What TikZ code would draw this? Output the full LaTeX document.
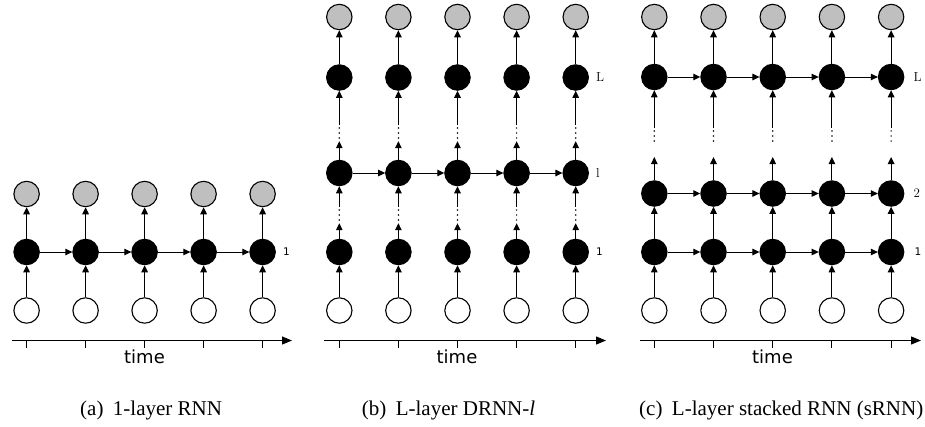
\documentclass[tikz,border=0pt]{standalone}
\usepackage{fontspec}
\usetikzlibrary{arrows.meta,calc}
\newfontfamily\capfont{Liberation Serif}
\newfontfamily\sansfnt{DejaVu Sans}
\tikzset{
  neuron/.style={circle,minimum size=25.4pt,inner sep=0pt,line width=1.1pt,draw=black},
  hid/.style={neuron,fill=black},
  outn/.style={neuron,fill=gray!50},
  inn/.style={neuron,fill=white},
  arr/.style={line width=1pt,-{Triangle[length=7pt,width=6.5pt]}},
  axisarr/.style={line width=1.1pt,-{Triangle[length=10pt,width=8pt]}},
  tickmark/.style={line width=1pt},
  dotsnode/.style={rectangle,inner sep=0pt,minimum width=3pt,minimum height=16pt},
  numlab/.style={anchor=west,inner sep=0pt,font=\sansfnt\fontsize{10.5}{12}\selectfont},
  serlab/.style={anchor=west,inner sep=0pt,font=\fontsize{13}{15}\selectfont},
  timelab/.style={inner sep=0pt,font=\sansfnt\fontsize{18}{20}\selectfont},
  captext/.style={anchor=base west,inner sep=0pt,font=\capfont\fontsize{21}{24}\selectfont}
}
\newcommand{\threedots}[1]{%
  \fill (#1) circle (0.85pt);
  \fill ($(#1)+(0,5)$) circle (0.85pt);
  \fill ($(#1)+(0,-5)$) circle (0.85pt);}
\begin{document}
\begin{tikzpicture}[x=1pt,y=-1pt]
\useasboundingbox (0,0) rectangle (925,426);
% ---------------- panel (a)
\foreach \i in {1,...,5}{
  \pgfmathsetmacro\xx{26.6+(\i-1)*59}
  \node[inn]  (ax\i) at (\xx,310.5) {};
  \node[hid]  (ah\i) at (\xx,252) {};
  \node[outn] (ao\i) at (\xx,194) {};
  \draw[arr] (ax\i) -- (ah\i);
  \draw[arr] (ah\i) -- (ao\i);
  \draw[tickmark] (\xx,340.5) -- (\xx,348);
}
\foreach \i/\j in {1/2,2/3,3/4,4/5} \draw[arr] (ah\i) -- (ah\j);
\coordinate (aL) at (11.7,340.5);
\coordinate (aR) at (292,340.5);
\draw[axisarr] (aL) -- (aR);
\node[timelab] (atime) at (144.5,357) {time};
\node[numlab] (alab1) at ([xshift=7pt]ah5.east) {1};
\node[captext] (capa) at (80,415) {(a)\hspace{0.45em}1-layer RNN};
% ---------------- panel (b)
\foreach \i in {1,...,5}{
  \pgfmathsetmacro\xx{339.3+(\i-1)*59.1}
  \node[inn]  (bx\i) at (\xx,310.5) {};
  \node[hid]  (b1\i) at (\xx,252) {};
  \node[dotsnode] (bda\i) at (\xx,215) {};
  \node[hid]  (bl\i) at (\xx,173) {};
  \node[dotsnode] (bdb\i) at (\xx,133) {};
  \node[hid]  (bL\i) at (\xx,77.5) {};
  \node[outn] (bo\i) at (\xx,17) {};
  \threedots{bda\i}
  \threedots{bdb\i}
  \draw[arr] (bx\i) -- (b1\i);
  \draw[arr] (b1\i) -- (bda\i.south);
  \draw[arr] (bda\i.north) -- (bl\i);
  \draw[arr] (bl\i) -- (bdb\i.south);
  \draw[arr] (bdb\i.north) -- (bL\i);
  \draw[arr] (bL\i) -- (bo\i);
  \draw[tickmark] (\xx,340.5) -- (\xx,348);
}
\foreach \i/\j in {1/2,2/3,3/4,4/5} \draw[arr] (bl\i) -- (bl\j);
\coordinate (bLft) at (324,340.5);
\coordinate (bRgt) at (606,340.5);
\draw[axisarr] (bLft) -- (bRgt);
\node[timelab] (btime) at (457,357) {time};
\node[numlab] (blab1) at ([xshift=7pt]b15.east) {1};
\node[serlab] (blabl) at ([xshift=7pt]bl5.east) {l};
\node[serlab] (blabL) at ([xshift=7pt]bL5.east) {L};
\node[captext] (capb) at (361.7,415) {(b)\hspace{0.45em}L-layer DRNN-\textit{l}};
% ---------------- panel (c)
\foreach \i in {1,...,5}{
  \pgfmathsetmacro\xx{654.3+(\i-1)*59.2}
  \node[inn]  (cx\i) at (\xx,310.5) {};
  \node[hid]  (c1\i) at (\xx,252) {};
  \node[hid]  (c2\i) at (\xx,193.5) {};
  \coordinate (cdt\i) at (\xx,157);
  \node[dotsnode] (cd\i) at (\xx,136) {};
  \node[hid]  (cL\i) at (\xx,77) {};
  \node[outn] (co\i) at (\xx,17) {};
  \threedots{cd\i}
  \draw[arr] (cx\i) -- (c1\i);
  \draw[arr] (c1\i) -- (c2\i);
  \draw[arr] (c2\i) -- (cdt\i);
  \draw[arr] (cd\i.north) -- (cL\i);
  \draw[arr] (cL\i) -- (co\i);
  \draw[tickmark] (\xx,340.5) -- (\xx,348);
}
\foreach \i/\j in {1/2,2/3,3/4,4/5}{
  \draw[arr] (c1\i) -- (c1\j);
  \draw[arr] (c2\i) -- (c2\j);
  \draw[arr] (cL\i) -- (cL\j);
}
\coordinate (cLft) at (640,340.5);
\coordinate (cRgt) at (921,340.5);
\draw[axisarr] (cLft) -- (cRgt);
\node[timelab] (ctime) at (772.5,357) {time};
\node[numlab] (clab1) at ([xshift=10pt]c15.east) {1};
\node[serlab] (clab2) at ([xshift=9pt]c25.east) {2};
\node[serlab] (clabL) at ([xshift=9pt]cL5.east) {L};
\node[captext] (capc) at (639,415) {(c)\hspace{0.45em}L-layer stacked RNN (sRNN)};
\end{tikzpicture}
\end{document}
